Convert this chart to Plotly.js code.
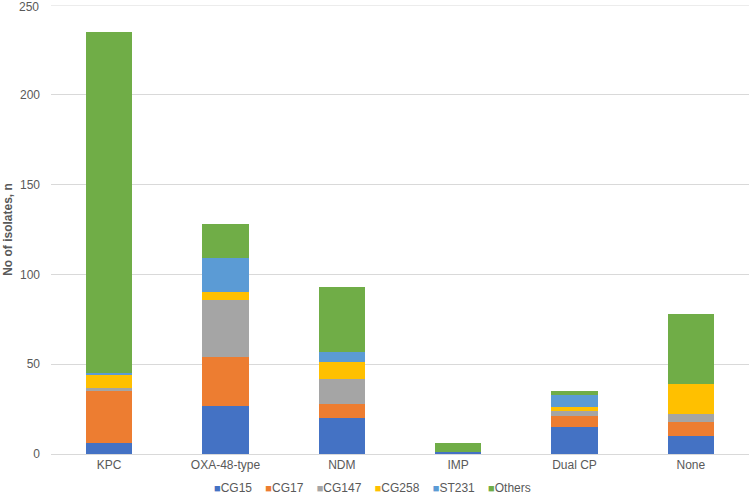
<!DOCTYPE html>
<html>
<head>
<meta charset="utf-8">
<script src="https://cdn.plot.ly/plotly-3.0.1.min.js"></script>
<style>
  body { margin: 0; background: #fff; }
  #chart { width: 750px; height: 495px; }
</style>
</head>
<body>
<div id="chart"></div>
<script>
// carbapenemase groups on the x axis
const categories = ['KPC', 'OXA-48-type', 'NDM', 'IMP', 'Dual CP', 'None'];

// isolates per clonal group, stacked
const cg15   = [6, 27, 20, 1, 15, 10];
const cg17   = [29, 27, 8, 0, 6, 8];
const cg147  = [2, 32, 14, 0, 3, 4];
const cg258  = [7, 4, 9, 0, 2, 17];
const st231  = [1, 19, 6, 0, 7, 0];
const others = [190, 19, 36, 5, 2, 39];

const seriesNames = ['CG15', 'CG17', 'CG147', 'CG258', 'ST231', 'Others'];
const seriesColors = ['#4472C4', '#ED7D31', '#A5A5A5', '#FFC000', '#5B9BD5', '#70AD47'];
const seriesValues = [cg15, cg17, cg147, cg258, st231, others];
const yMax = 250;

const data = seriesValues.map(function (vals, i) {
  return {
    type: 'bar',
    x: categories,
    y: vals,
    name: seriesNames[i],
    marker: { color: seriesColors[i], line: { width: 0 } },
    showlegend: false
  };
});

// excel style legend: small squares close to the names
let legendText = seriesNames.map(function (n, i) {
  return '<span style="color:' + seriesColors[i] + ';font-size:11px">\u25A0</span>' + n;
}).join('&nbsp;&nbsp;&nbsp;&nbsp;');

const layout = {
  width: 750,
  height: 495,
  barmode: 'stack',
  bargap: 0.6,
  margin: { l: 51, r: 1, t: 5, b: 41, autoexpand: false },
  paper_bgcolor: '#ffffff',
  plot_bgcolor: '#ffffff',
  font: { family: 'Liberation Sans, Arial, sans-serif', size: 12, color: '#595959' },
  xaxis: {
    showgrid: false,
    showline: true,
    linecolor: '#d9d9d9',
    linewidth: 1,
    ticks: '',
    tickfont: { size: 12, color: '#595959' }
  },
  yaxis: {
    range: [0, yMax],
    dtick: 50,
    tick0: 0,
    showgrid: true,
    gridcolor: '#d9d9d9',
    zeroline: false,
    showline: false,
    ticks: '',
    ticklabelstandoff: 10,
    tickfont: { size: 12, color: '#595959' },
    title: { text: '<b>No of isolates, n</b>', font: { size: 12, color: '#595959' }, standoff: 4 }
  },
  // top gridline and its label sit on the plot edge, plotly drops them
  shapes: [{
    type: 'line', xref: 'paper', yref: 'y',
    x0: 0, x1: 1, y0: yMax, y1: yMax,
    line: { color: '#d9d9d9', width: 1 }
  }],
  annotations: [{
    text: String(yMax),
    xref: 'paper', yref: 'y',
    x: 0, y: yMax,
    xanchor: 'right', yanchor: 'middle',
    xshift: -10, yshift: -2,
    showarrow: false,
    font: { size: 12, color: '#595959' }
  }, {
    text: legendText,
    xref: 'paper',
    yref: 'paper',
    x: 0.46,
    y: -0.076,
    xanchor: 'center',
    yanchor: 'middle',
    showarrow: false,
    font: { size: 12, color: '#595959' }
  }],
  showlegend: false
};

Plotly.newPlot('chart', data, layout, { displayModeBar: false, staticPlot: true });
</script>
</body>
</html>
